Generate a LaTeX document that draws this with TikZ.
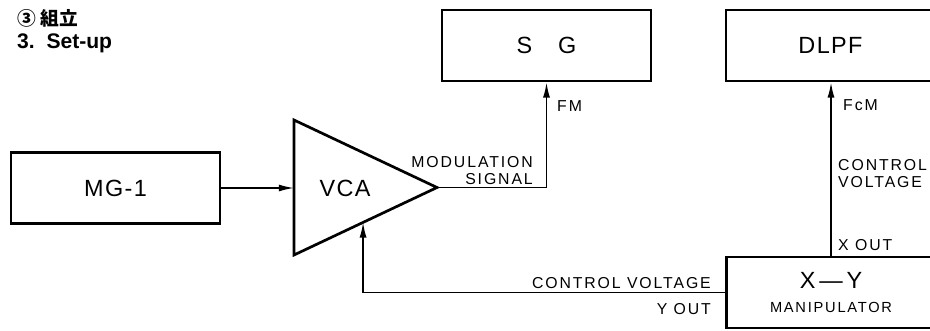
\documentclass[tikz,border=0pt]{standalone}
\usepackage{fontspec}
\setmainfont{Liberation Sans}
\newfontfamily\lblfont[LetterSpace=12]{Liberation Sans}
\newfontfamily\boxfont[LetterSpace=6]{Liberation Sans}
\newfontfamily\cjkfont{Noto Sans CJK JP}
\usetikzlibrary{positioning,arrows.meta,calc}

\begin{document}
\begin{tikzpicture}[x=0.03cm,y=0.03cm,
  box/.style={draw,line width=2.3pt,minimum width=6.27cm,minimum height=2.13cm,
    font=\boxfont\fontsize{20}{22}\selectfont},
  sig/.style={line width=1.4pt,-{Latex[length=13pt,width=6pt]}},
  lbl/.style={inner sep=0pt,font=\lblfont\fontsize{13.5}{14.5}\selectfont}]
  % page frame, pixels of the original scan
  \useasboundingbox (0,0) rectangle (930,330);
  \clip (0,0) rectangle (930,330);
  % heading
  \node[anchor=west,inner sep=0pt,font=\cjkfont\bfseries\fontsize{16}{18}\selectfont] (ttl) at (17,312) {③ 組立};
  \node[anchor=west,inner sep=0pt,font=\bfseries\fontsize{18}{20}\selectfont] (setup) at (17,287) {3.\ \ Set-up};
  % units
  \node[box] (mg) at (115.5,142) {MG-1};
  \coordinate (vcaT) at (294,210);
  \coordinate (vcaB) at (294,75);
  \coordinate (vcaTip) at (437,142.5);
  \coordinate (vcaL) at (294,142.5);
  \coordinate (vcaIn) at ($(vcaB)!0.483!(vcaTip)$);
  \draw[line width=2.3pt] (vcaT) -- (vcaTip) -- (vcaB) -- cycle;
  \node[font=\boxfont\fontsize{20}{22}\selectfont] (vca) at (345,142) {VCA};
  \node[box] (sg) at (546.5,284.5) {S\hspace{1.1em}G};
  \node[box] (dlpf) at (830.5,284.5) {DLPF};
  \node[box,align=center] (xy) at (831,37.5)
    {X\,—\,Y\\[-2pt]{\lblfont\fontsize{12.5}{13}\selectfont MANIPULATOR}};
  % signal paths
  \draw[sig] (mg.east) -- (mg.east -| vcaL);
  \draw[sig] (vcaTip) -| (sg.south);
  \draw[sig] (xy.north) -- (xy.north |- dlpf.south);
  \draw[sig] (xy.west) -| (vcaIn);
  % labels
  \node[lbl,align=right,anchor=south east] (modlbl) at (533,145) {MODULATION\\SIGNAL};
  \node[lbl,anchor=west] (fmlbl) at (557,224) {FM};
  \node[lbl,anchor=west] (fcmlbl) at (843,225) {FcM};
  \node[lbl,anchor=west,align=left] (cvlbl) at (838,156) {CONTROL\\VOLTAGE};
  \node[lbl,anchor=west] (xoutlbl) at (838,85) {X OUT};
  \node[lbl,anchor=east] (ycvlbl) at (711,47) {CONTROL VOLTAGE};
  \node[lbl,anchor=east] (youtlbl) at (711,21) {Y OUT};
\end{tikzpicture}
\end{document}
